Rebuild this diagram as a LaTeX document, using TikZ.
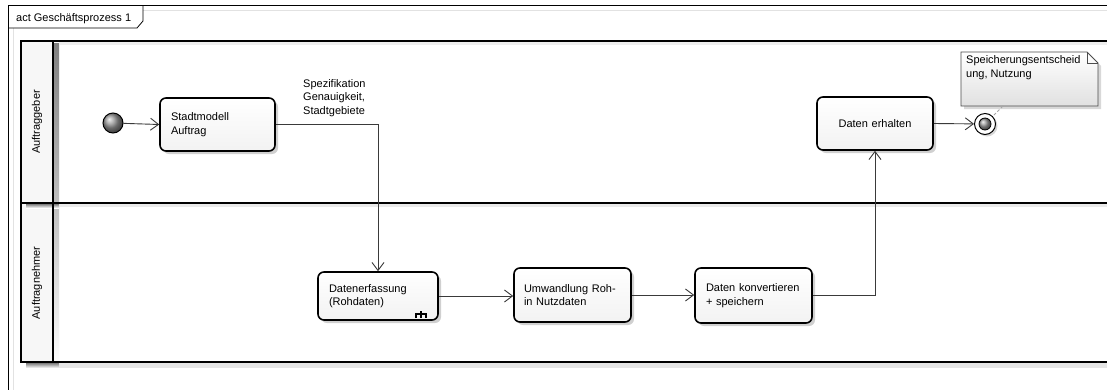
\documentclass[tikz,border=0pt]{standalone}
\usepackage{fontspec}
\setmainfont{Liberation Sans}
\usetikzlibrary{arrows.meta,shadows}
\definecolor{linegray}{HTML}{3A3A3A}
\definecolor{headfill}{HTML}{F7F7F7}
\definecolor{shade}{HTML}{D4D4D4}
\definecolor{paleline}{HTML}{E2E2E2}
\begin{document}
\begin{tikzpicture}[x=1pt,y=-1pt,
  font=\fontsize{11}{13.5}\selectfont,
  action/.style={draw=black, line width=1.6pt, rounded corners=6pt,
    top color=white, bottom color=black!5, inner xsep=11pt, inner ysep=0pt,
    align=left,
    drop shadow={shadow xshift=3pt, shadow yshift=-3pt, fill=black!30, opacity=0.6}},
  flow/.style={draw=linegray, line width=0.9pt,
    -{Straight Barb[length=8pt,width=12pt,line width=0.9pt]}},
  lane/.style={draw=black, line width=1.8pt},
  label/.style={inner sep=0pt, anchor=base west, align=left},
  notelink/.style={draw=black!35, line width=0.8pt, dash pattern=on 3pt off 2pt}
]
\useasboundingbox (0,0) rectangle (1107,389);
\clip (0,0) rectangle (1107,389);
\fill[white] (0,0) rectangle (1107,389);

% diagram frame with its name tab
\draw[paleline, line width=0.8pt] (13,395) -- (13,28);
\draw[paleline, line width=0.8pt] (143,10) -- (1120,10);
\draw[black, line width=0.8pt] (8,395) -- (8,5) -- (1120,5);
\draw[black, line width=0.8pt] (8,28) -- (137,28) -- (143,21) -- (143,5);
\node[label] (frametitle) at (16,21) {act Geschäftsprozess 1};

% swimlanes
\fill[headfill] (21,41) rectangle (53,362);
\fill[shade] (54,43) rectangle (59,367);
\fill[shade] (26,363) rectangle (59,368);
\fill[shade!60] (59,363) rectangle (1120,368);
\fill[shade] (26,204) rectangle (59,208);
\fill[shade!50] (59,204) rectangle (1120,207);
\fill[shade!40] (59,42) rectangle (1120,45);
\draw[lane] (1120,41) -- (21,41) -- (21,362) -- (1120,362);
\draw[lane] (21,203) -- (1120,203);
\draw[lane] (53,41) -- (53,362);
\node[rotate=90, inner sep=0pt] (lanea) at (37,122) {Auftraggeber};
\node[rotate=90, inner sep=0pt] (laneb) at (37,283) {Auftragnehmer};

% actions
\node[action, text width=93pt, minimum height=53pt] (stadt) at (217.5,124.5) {Stadtmodell\\Auftrag};
\node[action, text width=98pt, minimum height=48pt] (erfassung) at (378,296) {Datenerfassung\\(Rohdaten)};
\node[action, inner xsep=10pt, text width=97pt, minimum height=54pt] (umwandlung) at (572.5,295) {Umwandlung Roh-\\in Nutzdaten};
\node[action, text width=95pt, minimum height=55pt] (konvert) at (753.5,295.5) {Daten konvertieren\\+ speichern};
\node[action, align=center, text width=94pt, minimum height=53pt] (erhalten) at (875,123.5) {Daten erhalten};

% sub-activity rake mark
\draw[black, line width=1.1pt] (421,311) -- (421,318)
  (416,318) -- (416,314) -- (426,314) -- (426,318);

% initial and final nodes
\node[circle, minimum size=20pt, inner sep=0pt, draw=black, line width=1pt,
  ball color=black!40] (start) at (113,123) {};
\node[circle, minimum size=21pt, inner sep=0pt, draw=black, line width=1pt,
  fill=white, drop shadow={shadow xshift=2pt, shadow yshift=-2pt, fill=black!25, opacity=0.6}] (finish) at (985,124) {};
\node[circle, minimum size=12pt, inner sep=0pt, draw=black, line width=0.8pt,
  ball color=black!40] (finishcore) at (finish.center) {};

% note
\fill[black!25, opacity=0.6] (964,55) -- (1090,55) -- (1101,66) -- (1101,109) -- (964,109) -- cycle;
\draw[black!70, line width=0.8pt, top color=white, bottom color=black!12]
  (961,52) -- (1087,52) -- (1098,63) -- (1098,106) -- (961,106) -- cycle;
\draw[black!70, line width=0.8pt] (1087,52) -- (1087,63) -- (1098,63);
\node[label] (notetext) at (966,77) {Speicherungsentscheid\\ung, Nutzung};
\coordinate (noteanchor) at (1003,106);

% flows
\draw[flow] (start) -- (stadt.west);
\draw[flow] (stadt.east) -| (erfassung.north);
\node[label] (flowlabel) at (303,114) {Spezifikation\\Genauigkeit,\\Stadtgebiete};
\draw[flow] (erfassung.east) -- (erfassung.east -| umwandlung.west);
\draw[flow] (umwandlung.east) -- (umwandlung.east -| konvert.west);
\draw[flow] (konvert.east) -| (erhalten.south);
\draw[flow] (erhalten.east) -- (finish);
\draw[notelink] (noteanchor) -- (finish);
\end{tikzpicture}
\end{document}
